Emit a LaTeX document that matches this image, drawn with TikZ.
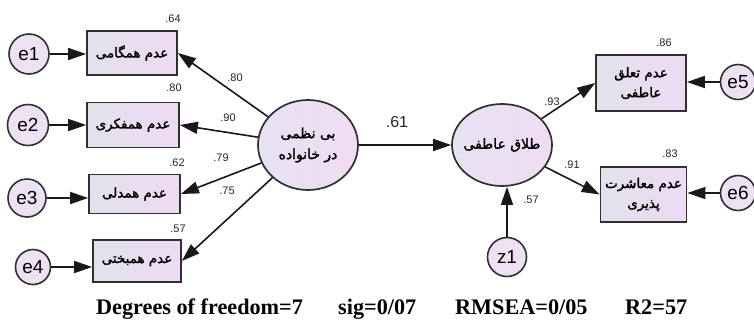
\documentclass[tikz,border=0pt]{standalone}
\usepackage{fontspec}
\setmainfont{Liberation Serif}
\newfontfamily\fa[Script=Arabic,FakeBold=1.8]{DejaVu Sans}
\newfontfamily\lsans{Liberation Sans}
\TeXXeTstate=1
\usetikzlibrary{arrows.meta,shapes.geometric}
\definecolor{boxL}{HTML}{E2E2EC}
\definecolor{boxR}{HTML}{EEDAF4}
\definecolor{latL}{HTML}{E6E2F0}
\definecolor{latR}{HTML}{F0DCF4}
\definecolor{errF}{HTML}{EDE1F3}
\definecolor{edge}{HTML}{303030}
\tikzset{
  obs/.style={rectangle, draw=edge, line width=1.7bp, left color=boxL, right color=boxR,
    inner sep=0pt, align=center, font=\fa\fontsize{13.5}{20}\selectfont},
  latent/.style={ellipse, draw=edge, line width=1.7bp, left color=latL, right color=latR,
    inner sep=-10bp, align=center, font=\fa\fontsize{14}{21}\selectfont},
  errc/.style={circle, draw=edge, line width=1.6bp, fill=errF, inner sep=0pt,
    font=\lsans\fontsize{19}{19}\selectfont},
  arr/.style={draw=black!90, line width=1.6bp, -{Triangle[length=18bp,width=12bp]}},
  coef/.style={inner sep=0pt, font=\lsans\fontsize{11}{11}\selectfont, text=black!85},
  fit/.style={anchor=base west, inner sep=0pt, font=\bfseries\fontsize{22.3}{23}\selectfont}
}
\begin{document}
\begin{tikzpicture}[x=1bp,y=-1bp]
\useasboundingbox[fill=white] (0,0) rectangle (754,322);
% observed boxes
\node[obs, minimum width=90bp, minimum height=44bp] (b1) at (132,53) {\beginR عدم همگامی\endR};
\node[obs, minimum width=92bp, minimum height=45bp] (b2) at (133,125) {\beginR عدم همفکری\endR};
\node[obs, minimum width=91bp, minimum height=39bp] (b3) at (134.5,194) {\beginR عدم همدلی\endR};
\node[obs, minimum width=88bp, minimum height=42bp] (b4) at (137,261) {\beginR عدم همبختی\endR};
\node[obs, minimum width=90bp, minimum height=56bp] (b5) at (641,83) {\beginR عدم تعلق\endR\\\beginR عاطفی\endR};
\node[obs, minimum width=86bp, minimum height=55bp] (b6) at (643.5,194.5) {\beginR عدم معاشرت\endR\\\beginR پذیری\endR};
% latent
\node[latent, minimum width=100bp, minimum height=90bp] (L1) at (308,145) {\beginR بی نظمی\endR\\\beginR در خانواده\endR};
\node[latent, minimum width=100bp, minimum height=82bp] (L2) at (502,145) {\beginR طلاق عاطفی\endR};
% error terms
\node[errc, minimum size=40bp] (e1) at (29,54) {e1};
\node[errc, minimum size=41bp] (e2) at (28,125) {e2};
\node[errc, minimum size=38bp] (e3) at (27,198) {e3};
\node[errc, minimum size=35bp] (e4) at (33,267) {e4};
\node[errc, minimum size=35bp] (e5) at (738,82) {e5};
\node[errc, minimum size=35bp] (e6) at (738,193) {e6};
\node[errc, minimum size=39bp] (z1) at (507,257) {z1};
% connectors
\draw[arr] (e1) -- (e1 -| b1.west);
\draw[arr] (e2) -- (e2 -| b2.west);
\draw[arr] (e3) -- (e3 -| b3.west);
\draw[arr] (e4) -- (e4 -| b4.west);
\draw[arr] (e5) -- (e5 -| b5.east);
\draw[arr] (e6) -- (e6 -| b6.east);
\draw[arr] (L1) -- (b1.east);
\draw[arr] (L1) -- (b2.east);
\draw[arr] (L1) -- (b3.east);
\draw[arr] (L1) -- (b4.east);
\draw[arr] (L1.east) -- (L2.west);
\draw[arr] (L2) -- (b5.west);
\draw[arr] (L2) -- (b6.west);
\draw[arr] (z1) -- (z1 |- L2.south);
% coefficients
\node[coef] (c64) at (173,19) {.64};
\node[coef] (c80a) at (174,88) {.80};
\node[coef] (c62) at (177,163) {.62};
\node[coef] (c57a) at (178,229) {.57};
\node[coef] (c80) at (235,78) {.80};
\node[coef] (c90) at (228,118) {.90};
\node[coef] (c79) at (221,158) {.79};
\node[coef] (c75) at (227,191) {.75};
\node[coef, font=\lsans\fontsize{16}{16}\selectfont] (c61) at (397,122) {.61};
\node[coef] (c93) at (552,102) {.93};
\node[coef] (c91) at (572,165) {.91};
\node[coef] (c86) at (664,43) {.86};
\node[coef] (c83) at (670,154) {.83};
\node[coef] (c57b) at (531,200) {.57};
% fit indices
\node[fit] (f1) at (96,314) {Degrees of freedom=7};
\node[fit] (f2) at (338,314) {sig=0/07};
\node[fit] (f3) at (455,314) {RMSEA=0/05};
\node[fit] (f4) at (625,314) {R2=57};
\end{tikzpicture}
\end{document}
